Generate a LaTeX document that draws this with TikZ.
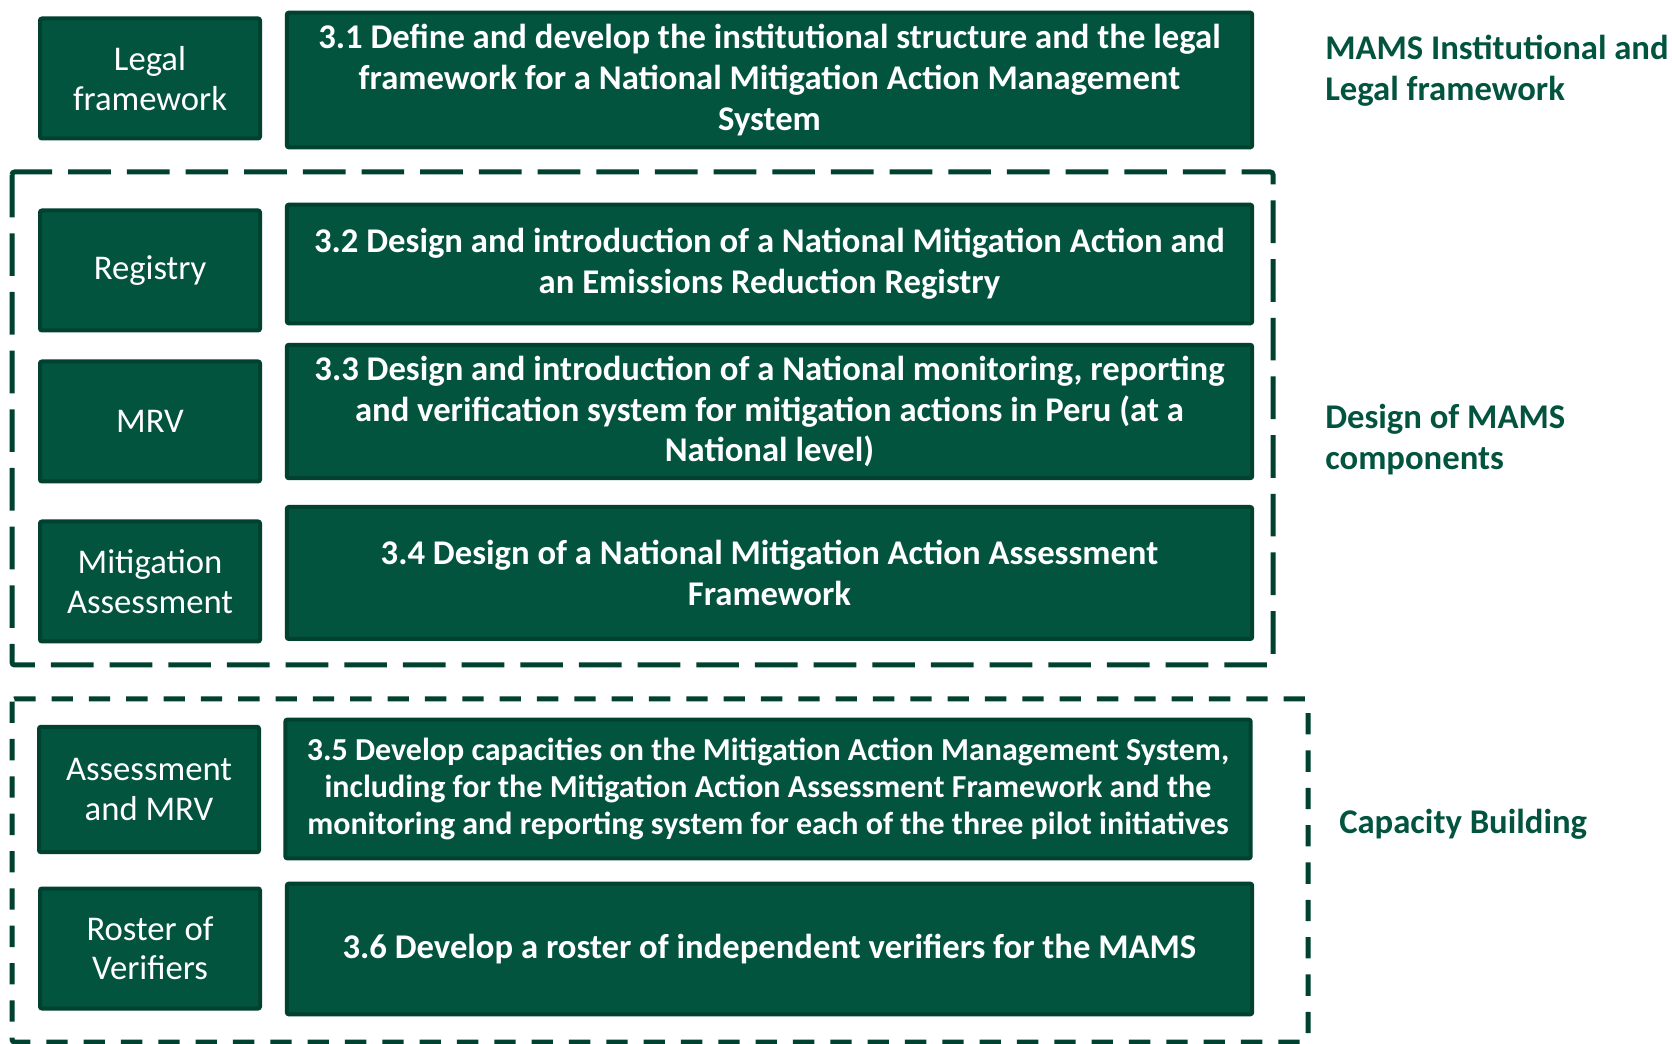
\documentclass[tikz,border=0pt]{standalone}
\usepackage{fontspec}
\setmainfont{Carlito}
\usepackage{tikz}
\usetikzlibrary{positioning}
\definecolor{MamsGreen}{HTML}{03543F}
\definecolor{MamsDark}{HTML}{00412F}
\tikzset{
  areabox/.style={draw=MamsDark,fill=MamsGreen,line width=3pt,rounded corners=1.5pt,align=center,text=white,inner sep=2pt,
    minimum width=165pt,minimum height=90pt,font=\fontsize{26}{29.6}\selectfont},
  taskbox/.style={draw=MamsDark,fill=MamsGreen,line width=3pt,rounded corners=1.5pt,align=center,text=white,inner sep=2pt,
    minimum width=724pt,font=\bfseries\fontsize{26}{30.5}\selectfont},
  groupframe/.style={draw=MamsDark,line width=3.75pt,rounded corners=2pt},
  sidelabel/.style={anchor=west,align=left,text=MamsGreen,inner sep=0pt,font=\bfseries\fontsize{26}{30.4}\selectfont}
}
\begin{document}
\begin{tikzpicture}[x=0.75pt,y=-0.75pt]
  \useasboundingbox[fill=white] (0,0) rectangle (1672,1044);

  % dashed group frames
  \draw[groupframe,dash pattern=on 32pt off 12pt] (12,172) rectangle (1273,665);
  \draw[groupframe,dash pattern=on 16pt off 12pt] (12,699) rectangle (1308,1042);

  % left column
  \node[areabox] (leg) at (150,78.5) {Legal\\framework};
  \node[areabox] (reg) at (150,270.5) {Registry};
  \node[areabox] (mrv) at (150,421.5) {MRV};
  \node[areabox] (mit) at (150,581.5) {Mitigation\\Assessment};
  \node[areabox,minimum height=94pt] (amrv) at (149,789.5) {Assessment\\and MRV};
  \node[areabox] (ros) at (150,948.5) {Roster of\\Verifiers};

  % activities
  \node[taskbox,minimum height=101pt] (t31) at (769.5,80) {3.1 Define and develop the institutional structure and the legal\\framework for a National Mitigation Action Management\\System};
  \node[taskbox,minimum height=89pt] (t32) at (769.5,264) {3.2 Design and introduction of a National Mitigation Action and\\an Emissions Reduction Registry};
  \node[taskbox,minimum height=100pt] (t33) at (769.5,411.5) {3.3 Design and introduction of a National monitoring, reporting\\and verification system for mitigation actions in Peru (at a\\National level)};
  \node[taskbox,minimum height=99pt] (t34) at (769.5,573) {3.4 Design of a National Mitigation Action Assessment\\Framework};
  \node[taskbox,minimum height=104pt,font=\bfseries\fontsize{24}{28}\selectfont] (t35) at (768,789) {3.5 Develop capacities on the Mitigation Action Management System,\\including for the Mitigation Action Assessment Framework and the\\monitoring and reporting system for each of the three pilot initiatives};
  \node[taskbox,minimum height=98pt] (t36) at (769.5,949) {3.6 Develop a roster of independent verifiers for the MAMS};

  % group labels
  \node[sidelabel] (lblleg) at (1325,70.5) {MAMS Institutional and\\Legal framework};
  \node[sidelabel] (lbldes) at (1325,439.5) {Design of MAMS\\components};
  \node[sidelabel] (lblcap) at (1339,824) {Capacity Building};
\end{tikzpicture}
\end{document}
